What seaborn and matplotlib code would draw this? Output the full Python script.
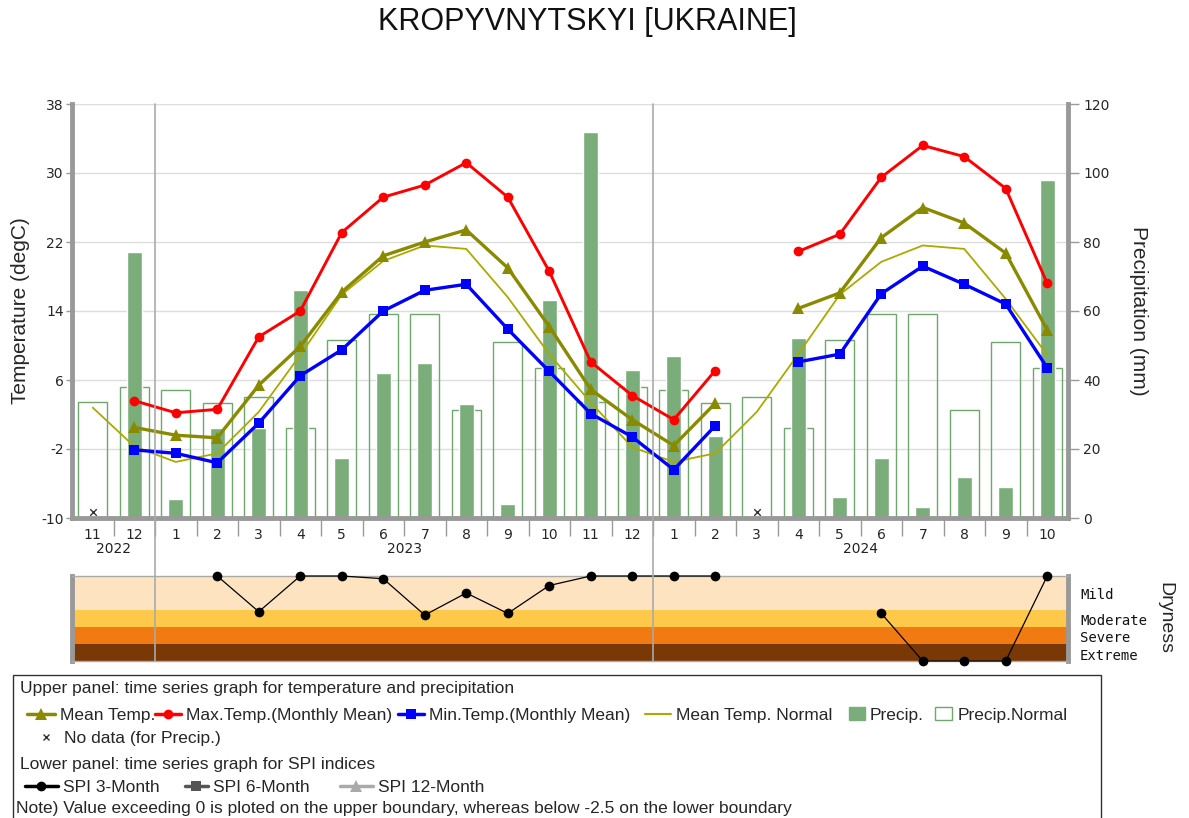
import numpy as np
import pandas as pd
import seaborn as sns
import matplotlib.pyplot as plt
import matplotlib.transforms as mtransforms
from matplotlib.lines import Line2D
from matplotlib.patches import Patch, Rectangle

nan = np.nan

# months from Nov 2022 to Oct 2024
months = [11, 12, 1, 2, 3, 4, 5, 6, 7, 8, 9, 10, 11, 12, 1, 2, 3, 4, 5, 6, 7, 8, 9, 10]
years = [2022] * 2 + [2023] * 12 + [2024] * 10

t_max = [nan, 3.6, 2.2, 2.6, 11.0, 14.0, 23.1, 27.2, 28.6, 31.2, 27.2, 18.6,
         8.1, 4.2, 1.4, 7.1, nan, 20.9, 22.9, 29.5, 33.2, 31.9, 28.2, 17.2]
t_mean = [nan, 0.5, -0.4, -0.7, 5.4, 9.9, 16.2, 20.4, 22.0, 23.4, 19.0, 12.2,
          4.9, 1.4, -1.6, 3.3, nan, 14.3, 16.1, 22.5, 26.0, 24.2, 20.7, 11.8]
t_min = [nan, -2.1, -2.5, -3.6, 1.0, 6.5, 9.5, 14.0, 16.4, 17.1, 11.9, 7.0,
         2.1, -0.6, -4.4, 0.7, nan, 8.1, 9.0, 16.0, 19.2, 17.1, 14.8, 7.4]
t_normal = [2.8, -1.7, -3.5, -2.5, 2.3, 8.9, 15.9, 19.8, 21.6, 21.2, 15.6, 9.0,
            3.4, -1.8, -3.5, -2.5, 2.3, 9.0, 15.9, 19.7, 21.6, 21.2, 15.4, 8.9]

precip = [nan, 77.2, 5.4, 26.0, 26.0, 66.1, 17.3, 42.1, 45.0, 33.0, 4.1, 63.2,
          112.0, 42.9, 47.1, 23.9, nan, 52.1, 6.2, 17.3, 3.3, 12.0, 9.1, 98.0]
precip_normal = [33.7, 38.0, 37.1, 33.4, 35.0, 26.0, 51.6, 59.0, 59.0, 31.3, 51.1, 43.4,
                 33.7, 38.0, 37.1, 33.4, 35.0, 26.0, 51.6, 59.0, 59.0, 31.3, 51.1, 43.4]

# SPI 3-month (values above 0 / below -2.5 sit on the boundaries)
spi3 = [nan, nan, nan, 0.0, -1.05, 0.0, 0.0, -0.08, -1.15, -0.5, -1.1, -0.28,
        0.0, 0.0, 0.0, 0.0, nan, nan, nan, -1.1, -2.5, -2.5, -2.5, 0.0]

sns.set_theme(style='white')
plt.rcParams['font.family'] = ['Liberation Sans', 'DejaVu Sans']
plt.rcParams['axes.unicode_minus'] = False

W, H = 1189, 818
fig = plt.figure(figsize=(W / 100, H / 100), dpi=100)


def fx(px):
    return px / W


def fy(py):
    return 1 - py / H


ax_t = fig.add_axes([fx(72), fy(518), fx(996), (518 - 104) / H])
ax_p = ax_t.twinx()
ax_s = fig.add_axes([fx(72), fy(661), fx(996), (661 - 576) / H])

idx = np.arange(len(months))
df = pd.DataFrame({'idx': idx, 'tmax': t_max, 'tmean': t_mean, 'tmin': t_min,
                   'tnorm': t_normal, 'precip': precip, 'pnorm': precip_normal,
                   'spi3': np.clip(spi3, -2.5, 0)})

green = '#7aad7a'
olive = '#8a8a00'

# precipitation on the right axis, drawn underneath
ax_t.set_zorder(ax_p.get_zorder() + 1)
ax_t.patch.set_visible(False)
ax_p.patch.set_visible(True)
ax_p.set_axisbelow(True)
ax_p.grid(axis='y', color='#dddddd', lw=1)

sns.barplot(data=df, x='idx', y='pnorm', native_scale=True, width=0.7, fill=False,
            color='#6fa86f', saturation=1, linewidth=1, errorbar=None, ax=ax_p)
sns.barplot(data=df.dropna(subset=['precip']), x='idx', y='precip', native_scale=True,
            width=0.36, color=green, saturation=1, errorbar=None, ax=ax_p)
nodata = df[df['precip'].isna()]
sns.scatterplot(x=nodata['idx'], y=np.full(len(nodata), 1.8), marker='x', color='#333333',
                s=22, linewidth=1, ax=ax_p, legend=False)


def draw_line(ax, col, **kw):
    d = df[['idx', col]].copy()
    d['seg'] = d[col].isna().cumsum()
    d = d.dropna()
    sns.lineplot(data=d, x='idx', y=col, units='seg', estimator=None, ax=ax, legend=False, **kw)


draw_line(ax_t, 'tnorm', color='#aaaa00', linewidth=1.3)
draw_line(ax_t, 'tmean', color=olive, linewidth=2.4, marker='^', markersize=8, markeredgewidth=0)
draw_line(ax_t, 'tmax', color='#ff0000', linewidth=2.1, marker='o', markersize=7, markeredgewidth=0)
draw_line(ax_t, 'tmin', color='#0000ff', linewidth=2.4, marker='s', markersize=7, markeredgewidth=0)

# axes setup
ax_t.set_xlim(-0.5, 23.5)
ax_t.set_ylim(-10, 38)
ax_p.set_ylim(0, 120)
ax_t.set_yticks(range(-10, 39, 8))
ax_p.set_yticks(range(0, 121, 20))
ax_t.set_xticks(idx)
ax_t.set_xticklabels(months)
ax_t.set_xticks(np.arange(0.5, 23, 1), minor=True)
ax_t.tick_params(axis='x', which='major', length=0, pad=7, labelsize=10)
ax_t.tick_params(axis='x', which='minor', bottom=True, length=13, width=1, color='#999999')
ax_t.tick_params(axis='y', left=True, length=4, width=1, color='#999999', labelsize=10, pad=2)
ax_p.tick_params(axis='y', right=True, length=8, width=1, color='#999999', labelsize=10, pad=3)
for lab in ax_t.get_xticklabels() + ax_t.get_yticklabels() + ax_p.get_yticklabels():
    lab.set_family('DejaVu Sans')

ax_t.set_xlabel('')
ax_t.set_ylabel('Temperature (degC)', fontsize=15, labelpad=8)
ax_p.set_ylabel('Precipitation (mm)', fontsize=15, rotation=270, va='bottom', labelpad=14)

for name, sp in ax_t.spines.items():
    sp.set_visible(name in ('left', 'bottom'))
    sp.set_color('#999999')
    sp.set_linewidth(3.5)
for name, sp in ax_p.spines.items():
    sp.set_visible(name == 'right')
    sp.set_color('#999999')
    sp.set_linewidth(3.5)

# year labels under the month ticks
year_tr = mtransforms.blended_transform_factory(ax_t.transData, ax_t.transAxes)
for yr in sorted(set(years)):
    pos = idx[np.array(years) == yr]
    ax_t.text(pos.mean(), -0.075, str(yr), transform=year_tr, ha='center', va='center',
              fontsize=10, family='DejaVu Sans', color='#222222')

# SPI panel
ax_s.axhspan(-1.0, 0.0, color='#fde3c0', lw=0)
ax_s.axhspan(-1.5, -1.0, color='#fec84a', lw=0)
ax_s.axhspan(-2.0, -1.5, color='#f27a12', lw=0)
ax_s.axhspan(-2.5, -2.0, color='#7a3806', lw=0)
draw_line(ax_s, 'spi3', color='black', linewidth=0.9, marker='o', markersize=7,
          markeredgewidth=0, clip_on=False, zorder=5)
ax_s.set_xlim(-0.5, 23.5)
ax_s.set_ylim(-2.5, 0)
ax_s.set_xticks([])
ax_s.set_yticks([])
ax_s.set_xlabel('')
ax_s.set_ylabel('')
for name, sp in ax_s.spines.items():
    sp.set_visible(True)
    sp.set_color('#999999' if name in ('left', 'right') else '#aaaaaa')
    sp.set_linewidth(3.5 if name in ('left', 'right') else 1)

for lab, yv in [('Mild', -0.55), ('Moderate', -1.32), ('Severe', -1.82), ('Extreme', -2.35)]:
    ax_s.text(1.012, yv, lab, transform=mtransforms.blended_transform_factory(ax_s.transAxes, ax_s.transData),
              ha='left', va='center', fontsize=10, family='DejaVu Sans Mono', color='#111111')
fig.text(fx(1165), fy(618), 'Dryness', rotation=270, ha='center', va='center', fontsize=14)

# year separators across both panels
sep_tr = mtransforms.blended_transform_factory(ax_t.transData, fig.transFigure)
for i in range(1, len(years)):
    if years[i] != years[i - 1]:
        fig.add_artist(Line2D([i - 0.5, i - 0.5], [fy(661), fy(104)], transform=sep_tr,
                              color='#aaaaaa', lw=1.2))

fig.text(fx(587), fy(22), 'KROPYVNYTSKYI [UKRAINE]', ha='center', va='center', fontsize=22,
         color='#111111')

# legend box
fig.add_artist(Rectangle((fx(13), -0.02), fx(1101 - 13), fy(675) + 0.02, transform=fig.transFigure,
                         fill=False, edgecolor='#333333', lw=1))
fs = 12.5
fig.text(fx(20), fy(688), 'Upper panel: time series graph for temperature and precipitation',
         ha='left', va='center', fontsize=fs)
fig.text(fx(20), fy(764), 'Lower panel: time series graph for SPI indices', ha='left', va='center', fontsize=fs)
fig.text(fx(16), fy(808), 'Note) Value exceeding 0 is ploted on the upper boundary, whereas below -2.5 on the lower boundary',
         ha='left', va='center', fontsize=fs)


def legend_item(handle, label, x_px, y_px, hl=2.0):
    fig.legend([handle], [label], loc='center left', bbox_to_anchor=(fx(x_px), fy(y_px)),
               frameon=False, fontsize=fs, handlelength=hl, handletextpad=0.3,
               borderpad=0, borderaxespad=0)


legend_item(Line2D([], [], color=olive, lw=2.5, marker='^', ms=8, mew=0), 'Mean Temp.', 27, 715, 1.6)
legend_item(Line2D([], [], color='#ff0000', lw=2.5, marker='o', ms=7, mew=0), 'Max.Temp.(Monthly Mean)', 155, 715, 1.5)
legend_item(Line2D([], [], color='#0000ff', lw=2.5, marker='s', ms=7, mew=0), 'Min.Temp.(Monthly Mean)', 398, 715, 1.5)
legend_item(Line2D([], [], color='#aaaa00', lw=1.5), 'Mean Temp. Normal', 645, 715, 1.5)
legend_item(Patch(facecolor=green, edgecolor=green), 'Precip.', 849, 715, 0.9)
legend_item(Patch(facecolor='white', edgecolor='#6fa86f'), 'Precip.Normal', 935, 715, 1.0)
legend_item(Line2D([], [], color='#333333', lw=0, marker='x', ms=5, mew=1), 'No data (for Precip.)', 33, 738, 1.5)
legend_item(Line2D([], [], color='black', lw=2.5, marker='o', ms=7, mew=0), 'SPI 3-Month', 25, 787, 1.9)
legend_item(Line2D([], [], color='#555555', lw=2.5, marker='s', ms=7, mew=0), 'SPI 6-Month', 185, 787, 1.3)
legend_item(Line2D([], [], color='#aaaaaa', lw=2.5, marker='^', ms=8, mew=0), 'SPI 12-Month', 340, 787, 1.9)

fig.savefig('out.png', dpi=100)
